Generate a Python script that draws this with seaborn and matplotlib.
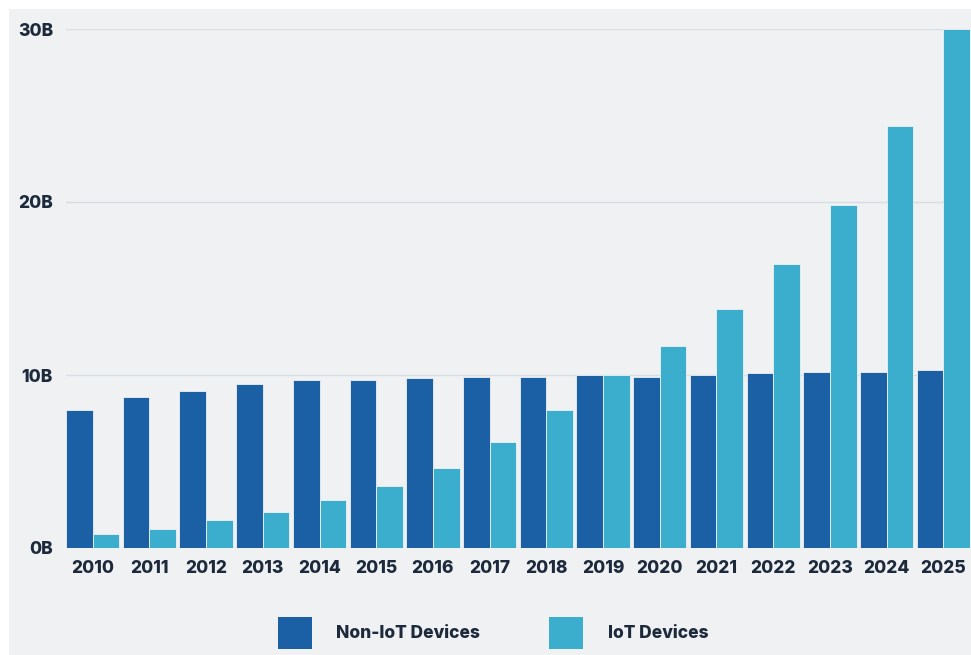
import matplotlib
matplotlib.use("Agg")
import matplotlib.pyplot as plt
import seaborn as sns
import pandas as pd
from matplotlib.patches import Rectangle, Patch

years = [str(y) for y in range(2010, 2026)]
non_iot = [8.0, 8.7, 9.1, 9.5, 9.7, 9.7, 9.8, 9.9, 9.9, 10.0, 9.9, 10.0, 10.1, 10.2, 10.2, 10.3]
iot = [0.8, 1.1, 1.6, 2.1, 2.8, 3.6, 4.6, 6.1, 8.0, 10.0, 11.7, 13.8, 16.4, 19.8, 24.4, 30.0]
series_names = ["Non-IoT Devices", "IoT Devices"]
y_ticks = [0, 10, 20, 30]
y_tick_labels = ["0B", "10B", "20B", "30B"]

BG = "#eff1f3"
TXT = "#1d2a3c"
palette = {"Non-IoT Devices": "#1b5fa5", "IoT Devices": "#3baecd"}

df = pd.DataFrame({
    "year": years * 2,
    "value": non_iot + iot,
    "series": [series_names[0]] * len(years) + [series_names[1]] * len(years),
})

sns.set_theme(style="white")
plt.rcParams["font.family"] = ["Inter", "DejaVu Sans"]
WEIGHT = "heavy"

fig = plt.figure(figsize=(9.71, 6.55), dpi=100)
fig.patch.set_facecolor("white")
fig.patches.append(Rectangle((9 / 971, 0), 1 - 9 / 971, 1 - 9 / 655,
                             transform=fig.transFigure, facecolor=BG,
                             edgecolor="none", zorder=-10))

ax = fig.add_axes([66 / 971, 107 / 655, (970 - 66) / 971, (548 - 29) / 655])
ax.set_facecolor(BG)
ax.patch.set_alpha(0)

sns.barplot(data=df, x="year", y="value", hue="series", palette=palette,
            width=0.94, saturation=1, ax=ax, edgecolor=BG, linewidth=0.6,
            legend=False, zorder=3)

ax.set_xlim(-0.47, 15.47)
ax.set_ylim(0, 30)
ax.set_yticks(y_ticks)
ax.set_yticklabels(y_tick_labels)
ax.grid(axis="y", color="#d8dde2", linewidth=1, zorder=0)
ax.grid(axis="x", visible=False)
for s in ax.spines.values():
    s.set_visible(False)
ax.tick_params(axis="both", length=0, colors=TXT)
ax.tick_params(axis="y", pad=9.4)
ax.tick_params(axis="x", pad=8.5)
for lab in ax.get_xticklabels() + ax.get_yticklabels():
    lab.set_fontsize(12.5)
    lab.set_fontweight(WEIGHT)
    lab.set_color(TXT)
ax.set_xlabel("")
ax.set_ylabel("")

handles = [Patch(facecolor=palette[n], edgecolor="none", label=n) for n in series_names]
leg = fig.legend(handles=handles, loc="center", bbox_to_anchor=(493 / 971, 1 - 633 / 655),
                 ncol=2, frameon=False, handlelength=1.96, handleheight=2.5,
                 handletextpad=1.4, columnspacing=4.0,
                 prop={"family": ["Inter", "DejaVu Sans"], "weight": WEIGHT, "size": 12.5})
for t in leg.get_texts():
    t.set_color(TXT)

fig.savefig("out.png", dpi=100, facecolor="white")
